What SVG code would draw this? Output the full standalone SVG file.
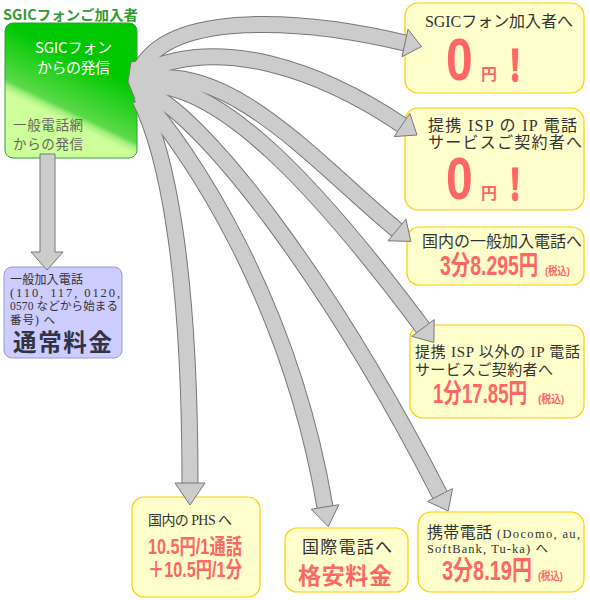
<svg xmlns="http://www.w3.org/2000/svg" width="590" height="600" viewBox="0 0 590 600">
<defs>
<linearGradient id="gg" gradientUnits="userSpaceOnUse" x1="95" y1="66" x2="68" y2="122">
<stop offset="0" stop-color="#00c800"/>
<stop offset="0.82" stop-color="#5ada48"/>
<stop offset="0.9" stop-color="#a4f07e"/>
<stop offset="1" stop-color="#ccff99"/>
</linearGradient>
<style>
.box{fill:#ffffcc;stroke:#ffcc00;stroke-width:1.2}
.t{font-family:"Liberation Serif","Noto Sans CJK JP",serif;fill:#333}
.r{font-family:"Liberation Sans","Noto Sans CJK JP",sans-serif;font-weight:bold;fill:#ff6666}
.ex{font-family:"Noto Sans CJK JP",sans-serif;font-weight:bold;fill:#ff6666;stroke:#ff6666;stroke-width:1.5}
.g{font-family:"Noto Sans CJK JP",sans-serif}
.ol{fill:none;stroke:#777;stroke-width:17}
.fl{fill:none;stroke:#cccccc;stroke-width:15}
.hd{fill:#cccccc;stroke:#777;stroke-width:1}
</style>
</defs>
<rect width="590" height="600" fill="#fff"/>

<g id="sgic">
<text class="g" x="3" y="20" font-size="14" font-weight="bold" fill="#339933" textLength="135" lengthAdjust="spacingAndGlyphs">SGICフォンご加入者</text>
<rect x="5" y="23" width="132" height="135" rx="8" fill="url(#gg)" stroke="#33a033" stroke-width="1"/>
<text class="g" x="35" y="53" font-size="15" fill="#fff" textLength="77">SGICフォン</text>
<text class="g" x="37" y="73" font-size="15" fill="#fff" textLength="73">からの発信</text>
<text class="g" x="13" y="130" font-size="13.5" fill="#666" textLength="70">一般電話網</text>
<text class="g" x="13" y="149" font-size="13.5" fill="#666" textLength="70">からの発信</text>
</g>

<g id="normal">
<rect x="4" y="267" width="118" height="91" rx="8" fill="#ccccff" stroke="#9999cc" stroke-width="1"/>
<text class="t" x="10" y="284" font-size="12" textLength="73">一般加入電話</text>
<text class="t" x="10" y="297" font-size="12.5" textLength="110">(110, 117, 0120,</text>
<text class="t" x="10" y="310" font-size="11.5" textLength="108">0570 などから始まる</text>
<text class="t" x="10" y="324" font-size="11.5" textLength="45">番号) へ</text>
<text class="g" x="13" y="351" font-size="23.5" font-weight="bold" fill="#333344" textLength="99">通常料金</text>
</g>

<g id="sgic-sub">
<rect class="box" x="405" y="3" width="179" height="90" rx="13"/>
<text class="t" x="425" y="27" font-size="16" textLength="148">SGICフォン加入者へ</text>
<text class="r" transform="translate(446,80) scale(0.8,1)" font-size="60">0</text>
<text class="r" x="481" y="80" font-size="16">円</text>
<text class="ex" transform="translate(515,81) scale(0.72,1)" font-size="42" text-anchor="middle">！</text>
</g>

<g id="isp-partner">
<rect class="box" x="405" y="108" width="179" height="102" rx="13"/>
<text class="t" x="428" y="131" font-size="16" textLength="149">提携 ISP の IP 電話</text>
<text class="t" x="428" y="148" font-size="16" textLength="154">サービスご契約者へ</text>
<text class="r" transform="translate(446,199) scale(0.8,1)" font-size="60">0</text>
<text class="r" x="481" y="199" font-size="16">円</text>
<text class="ex" transform="translate(515,200) scale(0.72,1)" font-size="42" text-anchor="middle">！</text>
</g>

<g id="domestic">
<rect class="box" x="407" y="227" width="177" height="58" rx="12"/>
<text class="t" x="422" y="247" font-size="16" textLength="160">国内の一般加入電話へ</text>
<text class="r" transform="translate(440,275) scale(0.72,1)" font-size="27">3分8.295円</text>
<text class="r" transform="translate(545,275) scale(0.85,1)" font-size="11">(税込)</text>
</g>

<g id="isp-other">
<rect class="box" x="410" y="325" width="174" height="93" rx="13"/>
<text class="t" x="415" y="357" font-size="15" textLength="165">提携 ISP 以外の IP 電話</text>
<text class="t" x="415" y="375" font-size="15" textLength="138">サービスご契約者へ</text>
<text class="r" transform="translate(433,403) scale(0.69,1)" font-size="27">1分17.85円</text>
<text class="r" transform="translate(538,403) scale(0.9,1)" font-size="11">(税込)</text>
</g>

<g id="phs">
<rect class="box" x="132" y="497" width="128" height="100" rx="12"/>
<text class="t" x="148" y="525" font-size="14" textLength="84">国内の PHS へ</text>
<text class="r" transform="translate(148,554) scale(0.756,1)" font-size="21.5">10.5円/1通話</text>
<text class="r" transform="translate(148,577) scale(0.756,1)" font-size="21.5">＋10.5円/1分</text>
</g>

<g id="intl">
<rect class="box" x="285" y="528" width="123" height="64" rx="12"/>
<text class="t" x="302" y="553" font-size="17" textLength="90">国際電話へ</text>
<text class="g" x="345" y="584" font-size="23" font-weight="bold" fill="#ff6666" text-anchor="middle" textLength="94">格安料金</text>
</g>

<g id="mobile">
<rect class="box" x="418" y="512" width="166" height="80" rx="13"/>
<text class="t" x="427" y="538" font-size="16"><tspan textLength="65">携帯電話</tspan><tspan x="497" font-size="12.5" textLength="83">(Docomo, au,</tspan></text>
<text class="t" x="427" y="553" font-size="12.5" textLength="121">SoftBank, Tu-ka) へ</text>
<text class="r" transform="translate(442,580) scale(0.74,1)" font-size="27">3分8.19円</text>
<text class="r" transform="translate(538,580) scale(0.85,1)" font-size="11">(税込)</text>
</g>

<g id="connectors">
<polygon class="hd" points="40,154 55,154 55,252 63,252 47,270 31,252 40,252"/>
<g class="ol">
<path d="M142,66 C175,12 300,18 405,43"/>
<path d="M142,72 C220,35 320,70 402,125"/>
<path d="M142,80 C230,60 318,165 397,230"/>
<path d="M142,85 C220,80 320,190 423,328"/>
<path d="M142,90 C200,110 330,280 440,495"/>
<path d="M140,95 C190,150 290,300 325,507"/>
<path d="M140,100 C165,150 190,260 190,483"/>
</g>
<polygon class="hd" points="131,62 146,60 146,106 137,104 128,82"/>
<g class="fl">
<path d="M142,66 C175,12 300,18 405,43"/>
<path d="M142,72 C220,35 320,70 402,125"/>
<path d="M142,80 C230,60 318,165 397,230"/>
<path d="M142,85 C220,80 320,190 423,328"/>
<path d="M142,90 C200,110 330,280 440,495"/>
<path d="M140,95 C190,150 290,300 325,507"/>
<path d="M140,100 C165,150 190,260 190,483"/>
</g>
<polygon class="hd" points="408,29.3 421.6,46.6 402,56.7"/>
<polygon class="hd" points="409.8,113.4 417,135 394.2,136.6"/>
<polygon class="hd" points="405.9,219.2 410.9,241.4 388.1,240.8"/>
<polygon class="hd" points="434.2,319.6 433.8,342.4 411.8,336.4"/>
<polygon class="hd" points="452.5,488.6 448.2,511 427.5,501.4"/>
<polygon class="hd" points="338.8,504.7 328.3,526.7 311.2,509.3"/>
<polygon class="hd" points="205,483 190,505 175,483"/>
</g>
</svg>
